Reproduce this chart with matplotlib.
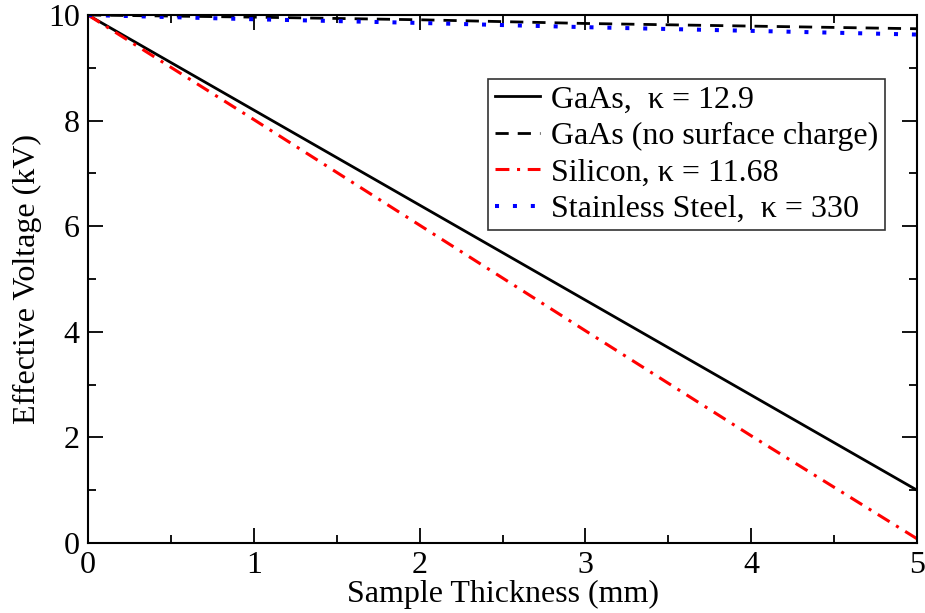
import matplotlib
matplotlib.use("Agg")
import matplotlib.pyplot as plt
from matplotlib.ticker import MultipleLocator

# Effective voltage versus sample thickness
thickness_mm = [0, 1, 2, 3, 4, 5]
gaas = [10.0, 8.2, 6.4, 4.6, 2.8, 1.0]
gaas_no_charge = [10.0, 9.96, 9.91, 9.84, 9.79, 9.74]
silicon = [10.0, 8.02, 6.02, 4.02, 2.03, 0.08]
steel = [10.0, 9.92, 9.85, 9.77, 9.70, 9.63]

labels = ["GaAs,  \u03ba = 12.9",
          "GaAs (no surface charge)",
          "Silicon, \u03ba = 11.68",
          "Stainless Steel,  \u03ba = 330"]

plt.rcParams["font.family"] = ["Liberation Serif", "DejaVu Serif"]
plt.rcParams["lines.scale_dashes"] = False

fig = plt.figure(figsize=(9.25, 6.13), dpi=100)
ax = fig.add_axes([0.0951, 0.1142, 0.8963, 0.8613])

ax.plot(thickness_mm, gaas, color="black", lw=2.0, label=labels[0])
ax.plot(thickness_mm, gaas_no_charge, color="black", lw=2.0,
        dashes=(9.5, 6.5), label=labels[1])
ax.plot(thickness_mm, silicon, color="red", lw=2.2,
        dashes=(10, 5.5, 2.2, 5.5), label=labels[2])
ax.plot(thickness_mm, steel, color="blue", lw=2.9,
        dashes=(2.9, 10.0), dash_capstyle="butt", label=labels[3])

ax.set_xlim(0, 5)
ax.set_ylim(0, 10)
ax.xaxis.set_major_locator(MultipleLocator(1))
ax.xaxis.set_minor_locator(MultipleLocator(0.5))
ax.yaxis.set_major_locator(MultipleLocator(2))
ax.yaxis.set_minor_locator(MultipleLocator(1))
ax.tick_params(which="both", direction="in", top=True, right=True,
               width=1.3, labelsize=23)
ax.tick_params(which="major", length=11, pad=6)
ax.tick_params(which="minor", length=5.5)
for s in ax.spines.values():
    s.set_linewidth(1.5)

ax.set_xlabel("Sample Thickness (mm)", fontsize=23, labelpad=0)
ax.set_ylabel("Effective Voltage (kV)", fontsize=23, labelpad=4)

leg = ax.legend(loc="upper right", bbox_to_anchor=(0.961, 0.879),
                borderaxespad=0, fontsize=23, frameon=True, fancybox=False,
                handlelength=1.42, handletextpad=0.35, labelspacing=0.22,
                borderpad=0.2)
leg.get_frame().set_edgecolor("black")
leg.get_frame().set_linewidth(1.2)

fig.savefig("out.png", dpi=100)
